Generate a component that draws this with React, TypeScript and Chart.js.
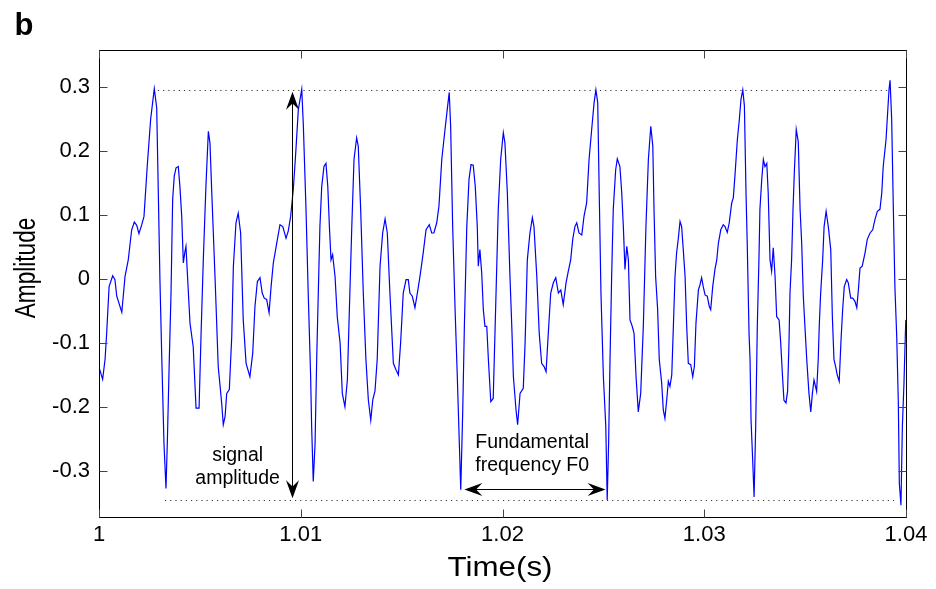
import { useEffect, useRef } from 'react';
import Chart from 'chart.js/auto';

const FONT = '"Liberation Sans", Arial, Helvetica, sans-serif';

// time axis (s) and waveform amplitude
const timeS = [
  1.00001, 1.00018, 1.0003, 1.00038, 1.0005, 1.00068, 1.00079, 1.00088, 1.00113, 1.00129,
  1.00145, 1.00162, 1.00175, 1.00187, 1.00198, 1.00212, 1.00223, 1.00239, 1.00256, 1.00274,
  1.00286, 1.00294, 1.00302, 1.00311, 1.00322, 1.00332, 1.00339, 1.00348, 1.00357, 1.00365,
  1.00373, 1.00382, 1.00393, 1.00401, 1.0041, 1.00418, 1.00426, 1.00431, 1.00438, 1.00451,
  1.00467, 1.00481, 1.00496, 1.00506, 1.00517, 1.0053, 1.00542, 1.0055, 1.00559, 1.00575,
  1.00591, 1.00608, 1.00616, 1.00625, 1.00633, 1.00646, 1.00658, 1.00666, 1.00679, 1.0069,
  1.00702, 1.00715, 1.00729, 1.00748, 1.00762, 1.00773, 1.00785, 1.00798, 1.00809, 1.00819,
  1.00831, 1.00843, 1.00853, 1.00864, 1.00881, 1.00897, 1.00911, 1.00927, 1.00938, 1.0095,
  1.00963, 1.00975, 1.00988, 1.01005, 1.01013, 1.01026, 1.01037, 1.01049, 1.01054, 1.01062,
  1.01071, 1.01079, 1.01087, 1.01095, 1.01104, 1.01115, 1.01125, 1.01134, 1.01142, 1.0115,
  1.01158, 1.0117, 1.01181, 1.01195, 1.01206, 1.01219, 1.01231, 1.01241, 1.01253, 1.01264,
  1.01277, 1.01285, 1.01297, 1.0131, 1.01323, 1.01335, 1.01347, 1.01357, 1.01368, 1.01379,
  1.01393, 1.01406, 1.01418, 1.01429, 1.01442, 1.01459, 1.01472, 1.01484, 1.01495, 1.01508,
  1.01522, 1.01533, 1.01541, 1.01553, 1.01566, 1.01578, 1.01591, 1.01607, 1.01621, 1.01637,
  1.01649, 1.0166, 1.01674, 1.01685, 1.01699, 1.01715, 1.01726, 1.01736, 1.01743, 1.01753,
  1.01765, 1.01776, 1.01786, 1.01793, 1.01803, 1.01811, 1.01823, 1.01834, 1.01844, 1.01855,
  1.01865, 1.01875, 1.0188, 1.01888, 1.01897, 1.01905, 1.01913, 1.01922, 1.0193, 1.01942,
  1.01954, 1.01968, 1.01979, 1.01991, 1.02004, 1.02012, 1.02024, 1.02037, 1.02046, 1.02054,
  1.02067, 1.02075, 1.02087, 1.02103, 1.02112, 1.02123, 1.02136, 1.02148, 1.02156, 1.0217,
  1.02182, 1.02194, 1.02206, 1.02216, 1.02227, 1.02239, 1.02252, 1.02264, 1.02277, 1.02289,
  1.02301, 1.02315, 1.02326, 1.02338, 1.02348, 1.02359, 1.02368, 1.02379, 1.02393, 1.02404,
  1.02417, 1.02429, 1.02442, 1.02454, 1.02463, 1.02472, 1.0248, 1.02488, 1.025, 1.02512,
  1.02519, 1.02526, 1.02533, 1.02541, 1.02549, 1.02561, 1.02569, 1.02582, 1.02591, 1.02599,
  1.02607, 1.02616, 1.02624, 1.02632, 1.02643, 1.02652, 1.02662, 1.02673, 1.02685, 1.02698,
  1.02711, 1.02723, 1.02735, 1.02745, 1.02751, 1.02759, 1.02769, 1.02777, 1.02789, 1.02797,
  1.02805, 1.02814, 1.02822, 1.0283, 1.02839, 1.02847, 1.02855, 1.02863, 1.02871, 1.0288,
  1.02888, 1.02896, 1.02905, 1.02913, 1.02921, 1.02933, 1.02943, 1.02951, 1.02959, 1.02971,
  1.02979, 1.02987, 1.02995, 1.03004, 1.03015, 1.03025, 1.03032, 1.03042, 1.03053, 1.03062,
  1.0307, 1.03082, 1.03094, 1.03103, 1.03114, 1.03124, 1.03136, 1.03144, 1.03152, 1.03164,
  1.03174, 1.03182, 1.03191, 1.03199, 1.03207, 1.03213, 1.03222, 1.03227, 1.03232, 1.0324,
  1.03247, 1.03255, 1.03263, 1.03271, 1.03276, 1.03285, 1.03293, 1.03301, 1.0331, 1.03317,
  1.03326, 1.03334, 1.03342, 1.03351, 1.03359, 1.03371, 1.03379, 1.03387, 1.03395, 1.03405,
  1.03413, 1.0342, 1.03425, 1.03433, 1.0344, 1.03447, 1.03456, 1.03466, 1.03475, 1.03483,
  1.03491, 1.03499, 1.03508, 1.03519, 1.03528, 1.03536, 1.03544, 1.03557, 1.03565, 1.0357,
  1.03577, 1.03587, 1.03594, 1.03604, 1.03615, 1.03627, 1.03635, 1.03643, 1.03653, 1.03659,
  1.03669, 1.03678, 1.03686, 1.03694, 1.03706, 1.03714, 1.03726, 1.03736, 1.03747, 1.03756,
  1.03764, 1.03772, 1.03783, 1.03797, 1.03808, 1.03822, 1.03835, 1.03846, 1.03858, 1.03871,
  1.0388, 1.03887, 1.03901, 1.03907, 1.03916, 1.03921, 1.03929, 1.03937, 1.03945, 1.03954,
  1.03962, 1.03967, 1.03975, 1.03982, 1.0399, 1.03995, 1.03999,
];

const amplitude = [
  -0.139, -0.157, -0.126, -0.085, -0.012, 0.005, -0.001, -0.027, -0.052, 0.004,
  0.03, 0.077, 0.089, 0.084, 0.071, 0.085, 0.098, 0.176, 0.25, 0.298,
  0.268, 0.135, -0.001, -0.121, -0.257, -0.328, -0.252, -0.132, -0.022, 0.124,
  0.161, 0.174, 0.176, 0.145, 0.098, 0.025, 0.043, 0.051, 0.009, -0.069,
  -0.106, -0.202, -0.202, -0.085, 0.03, 0.145, 0.231, 0.213, 0.135, 0.004,
  -0.137, -0.194, -0.228, -0.215, -0.179, -0.173, -0.09, 0.02, 0.088, 0.103,
  0.072, -0.064, -0.132, -0.153, -0.116, -0.043, -0.004, 0.002, -0.022, -0.03,
  -0.032, -0.053, -0.012, 0.025, 0.056, 0.085, 0.082, 0.064, 0.075, 0.098,
  0.14, 0.197, 0.265, 0.297, 0.239, 0.109, -0.022, -0.153, -0.231, -0.317,
  -0.257, -0.126, -0.022, 0.082, 0.145, 0.176, 0.181, 0.145, 0.082, 0.03,
  0.038, 0.004, -0.059, -0.1, -0.179, -0.2, -0.158, -0.048, 0.082, 0.187,
  0.221, 0.208, 0.109, -0.022, -0.126, -0.189, -0.221, -0.189, -0.175, -0.126,
  0.02, 0.072, 0.094, 0.072, -0.022, -0.132, -0.142, -0.15, -0.1, -0.022,
  -0.001, -0.001, -0.022, -0.027, -0.045, -0.022, 0.004, 0.041, 0.077, 0.085,
  0.072, 0.072, 0.088, 0.114, 0.187, 0.234, 0.265, 0.292, 0.239, 0.082,
  -0.048, -0.153, -0.257, -0.33, -0.205, -0.074, 0.082, 0.156, 0.179, 0.178,
  0.145, 0.082, 0.02, 0.046, 0.009, -0.048, -0.074, -0.074, -0.126, -0.192,
  -0.187, -0.022, 0.109, 0.187, 0.229, 0.213, 0.135, 0.004, -0.074, -0.153,
  -0.205, -0.228, -0.179, -0.171, -0.1, 0.03, 0.072, 0.096, 0.082, 0.004,
  -0.085, -0.132, -0.137, -0.145, -0.085, -0.022, -0.006, 0.002, -0.022, -0.017,
  -0.04, -0.006, 0.012, 0.03, 0.062, 0.082, 0.088, 0.072, 0.069, 0.098,
  0.119, 0.187, 0.234, 0.276, 0.296, 0.276, 0.124, -0.022, -0.153, -0.231,
  -0.346, -0.257, -0.126, 0.004, 0.109, 0.171, 0.188, 0.176, 0.135, 0.082,
  0.015, 0.051, 0.03, -0.064, -0.074, -0.085, -0.153, -0.208, -0.179, -0.074,
  0.082, 0.187, 0.239, 0.208, 0.109, 0.004, -0.048, -0.126, -0.163, -0.205,
  -0.218, -0.189, -0.16, -0.168, -0.15, -0.074, 0.004, 0.041, 0.062, 0.09,
  0.082, 0.046, 0.004, -0.074, -0.132, -0.134, -0.153, -0.137, -0.069, -0.017,
  -0.009, 0.002, -0.012, -0.025, -0.027, -0.043, -0.048, -0.012, 0.015, 0.03,
  0.056, 0.077, 0.085, 0.082, 0.073, 0.088, 0.119, 0.127, 0.161, 0.218,
  0.25, 0.281, 0.296, 0.271, 0.135, 0.056, -0.085, -0.126, -0.221, -0.283,
  -0.341, -0.231, -0.074, 0.03, 0.109, 0.156, 0.187, 0.176, 0.181, 0.135,
  0.03, 0.012, 0.049, 0.004, -0.059, -0.064, -0.1, -0.147, -0.19, -0.194,
  -0.176, -0.1, -0.022, 0.03, 0.109, 0.171, 0.234, 0.215, 0.109, 0.056,
  -0.027, -0.074, -0.126, -0.179, -0.208, -0.179, -0.158, -0.176, -0.126, -0.074,
  -0.022, 0.03, 0.082, 0.106, 0.082, 0.046, -0.059, -0.126, -0.14, -0.15,
  -0.16, -0.095, -0.048, -0.012, -0.001, -0.006, -0.03, -0.03, -0.035, -0.045,
  -0.017, 0.017, 0.02, 0.041, 0.062, 0.072, 0.077, 0.093, 0.106, 0.109,
  0.135, 0.176, 0.218, 0.25, 0.297, 0.311, 0.25, 0.114, -0.012, -0.09,
  -0.194, -0.32, -0.354, -0.231, -0.163, -0.106, -0.064,
];

// axis ranges and ticks
const xRange = [1, 1.04];
const yRange = [-0.3725, 0.3584];
const xStep = 0.01;
const yStep = 0.1;

// annotation levels (data units)
const peakLevel = 0.296;
const troughLevel = -0.346;
const peakLineSpan = [1.00292, 1.0391];
const troughLineSpan = [1.00327, 1.0396];
const ampArrowTime = 1.00958;
const ampArrowSpan = [-0.343, 0.293];
const f0ArrowLevel = -0.329;
const f0ArrowSpan = [1.01811, 1.02511];
const ampLabel = { time: 1.00687, lines: ['signal', 'amplitude'], levels: [-0.2848, -0.3208] };
const f0Label = { time: 1.02147, lines: ['Fundamental', 'frequency F0'], levels: [-0.265, -0.3] };

const arrowHead = (ctx: CanvasRenderingContext2D, tx: number, ty: number, dx: number, dy: number) => {
  const len = 18;
  const half = 6.5;
  const px = -dy;
  const py = dx;
  ctx.beginPath();
  ctx.moveTo(tx, ty);
  ctx.lineTo(tx - dx * len + px * half, ty - dy * len + py * half);
  ctx.lineTo(tx - dx * len * 0.65, ty - dy * len * 0.65);
  ctx.lineTo(tx - dx * len - px * half, ty - dy * len - py * half);
  ctx.closePath();
  ctx.fill();
};

const decorations = {
  id: 'decorations',
  afterDatasetsDraw(chart: any) {
    const { ctx, chartArea } = chart;
    const { left, right, top, bottom } = chartArea;
    const x = chart.scales.x;
    const y = chart.scales.y;
    ctx.save();

    // dotted reference levels
    ctx.strokeStyle = '#333';
    ctx.lineWidth = 1;
    ctx.setLineDash([1.2, 4]);
    ctx.beginPath();
    const yp = Math.round(y.getPixelForValue(peakLevel)) + 0.5;
    ctx.moveTo(x.getPixelForValue(peakLineSpan[0]), yp);
    ctx.lineTo(x.getPixelForValue(peakLineSpan[1]), yp);
    const yt = Math.round(y.getPixelForValue(troughLevel)) + 0.5;
    ctx.moveTo(x.getPixelForValue(troughLineSpan[0]), yt);
    ctx.lineTo(x.getPixelForValue(troughLineSpan[1]), yt);
    ctx.stroke();
    ctx.setLineDash([]);

    // arrows
    ctx.strokeStyle = '#000';
    ctx.fillStyle = '#000';
    const ax = Math.round(x.getPixelForValue(ampArrowTime)) + 0.5;
    const ay0 = y.getPixelForValue(ampArrowSpan[0]);
    const ay1 = y.getPixelForValue(ampArrowSpan[1]);
    ctx.beginPath();
    ctx.moveTo(ax, ay0 - 8);
    ctx.lineTo(ax, ay1 + 8);
    ctx.stroke();
    arrowHead(ctx, ax, ay1, 0, -1);
    arrowHead(ctx, ax, ay0, 0, 1);

    const fy = Math.round(y.getPixelForValue(f0ArrowLevel)) + 0.5;
    const fx0 = x.getPixelForValue(f0ArrowSpan[0]);
    const fx1 = x.getPixelForValue(f0ArrowSpan[1]);
    ctx.beginPath();
    ctx.moveTo(fx0 + 8, fy);
    ctx.lineTo(fx1 - 8, fy);
    ctx.stroke();
    arrowHead(ctx, fx0, fy, -1, 0);
    arrowHead(ctx, fx1, fy, 1, 0);

    // annotation text
    ctx.font = `19.5px ${FONT}`;
    ctx.textAlign = 'center';
    ctx.textBaseline = 'alphabetic';
    [ampLabel, f0Label].forEach((lab) => {
      const cx = x.getPixelForValue(lab.time);
      lab.lines.forEach((t, i) => ctx.fillText(t, cx, y.getPixelForValue(lab.levels[i])));
    });

    // box and inward ticks
    const l = Math.floor(left) + 0.5;
    const r = Math.floor(right) + 0.5;
    const t = Math.floor(top) + 0.5;
    const b = Math.floor(bottom) + 0.5;
    ctx.strokeStyle = '#000';
    ctx.strokeRect(l, t, r - l, b - t);
    ctx.strokeStyle = '#444';
    ctx.beginPath();
    x.ticks.forEach((tk: any) => {
      const px = Math.round(x.getPixelForValue(tk.value)) + 0.5;
      ctx.moveTo(px, b);
      ctx.lineTo(px, b - 8);
      ctx.moveTo(px, t);
      ctx.lineTo(px, t + 8);
    });
    y.ticks.forEach((tk: any) => {
      const py = Math.round(y.getPixelForValue(tk.value)) + 0.5;
      ctx.moveTo(l, py);
      ctx.lineTo(l + 8, py);
      ctx.moveTo(r, py);
      ctx.lineTo(r - 8, py);
    });
    ctx.stroke();

    // axis titles and panel letter
    ctx.fillStyle = '#000';
    ctx.textAlign = 'center';
    ctx.save();
    ctx.translate(500, 576);
    ctx.scale(1.16, 1);
    ctx.font = `27px ${FONT}`;
    ctx.fillText('Time(s)', 0, 0);
    ctx.restore();

    ctx.save();
    ctx.translate(35, 268);
    ctx.rotate(-Math.PI / 2);
    ctx.scale(0.78, 1);
    ctx.font = `29px ${FONT}`;
    ctx.fillText('Amplitude', 0, 0);
    ctx.restore();

    ctx.textAlign = 'left';
    ctx.font = `bold 31px ${FONT}`;
    ctx.fillText('b', 14.5, 35.3);
    ctx.restore();
  },
};

export default function App() {
  const canvasRef = useRef<HTMLCanvasElement>(null);

  useEffect(() => {
    if (!canvasRef.current) return;

    const chart = new Chart(canvasRef.current, {
      type: 'line',
      data: {
        datasets: [
          {
            data: timeS.map((t, i) => ({ x: t, y: amplitude[i] })),
            borderColor: '#0000ff',
            borderWidth: 1.2,
            pointRadius: 0,
            tension: 0,
            fill: false,
          },
        ],
      },
      options: {
        animation: false,
        responsive: true,
        maintainAspectRatio: false,
        layout: { padding: { left: 0, top: 50, right: 30, bottom: 0 } },
        plugins: { legend: { display: false }, tooltip: { enabled: false } },
        scales: {
          x: {
            type: 'linear',
            min: xRange[0],
            max: xRange[1],
            grid: { display: false, drawTicks: false },
            border: { display: false },
            ticks: {
              stepSize: xStep,
              includeBounds: false,
              autoSkip: false,
              maxRotation: 0,
              padding: 5,
              color: '#000',
              font: { family: FONT, size: 22 },
              callback: (v: any) => String(Number(Number(v).toFixed(2))),
            },
            afterFit: (s: any) => {
              s.height = 72;
            },
          },
          y: {
            type: 'linear',
            min: yRange[0],
            max: yRange[1],
            grid: { display: false, drawTicks: false },
            border: { display: false },
            ticks: {
              stepSize: yStep,
              includeBounds: false,
              padding: 9,
              color: '#000',
              font: { family: FONT, size: 22 },
              callback: (v: any) => (Math.abs(Number(v)) < 1e-9 ? '0' : Number(v).toFixed(1)),
            },
            afterFit: (s: any) => {
              s.width = 99;
            },
          },
        },
      },
      plugins: [decorations],
    });

    return () => chart.destroy();
  }, []);

  return (
    <div style={{ position: 'absolute', left: 0, top: 0, width: 936, height: 589, background: '#fff' }}>
      <canvas ref={canvasRef} />
    </div>
  );
}
